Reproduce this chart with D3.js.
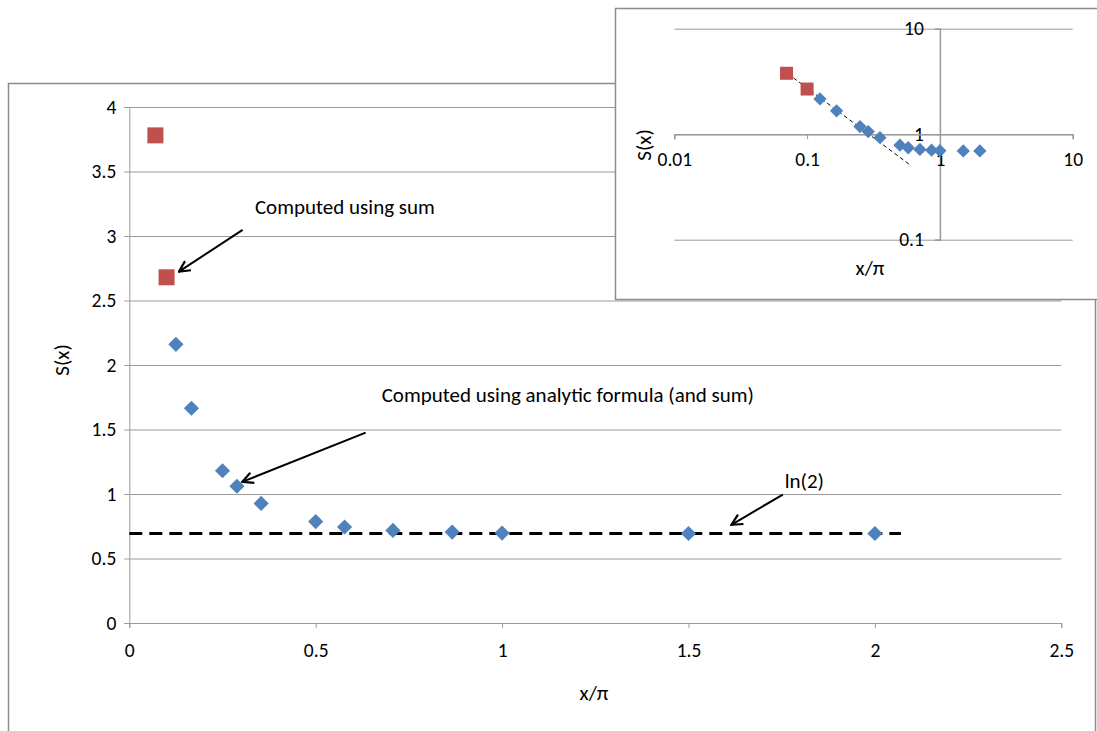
<!DOCTYPE html>
<html>
<head>
<meta charset="utf-8">
<script src="https://cdn.jsdelivr.net/npm/d3@7"></script>
<style>
  body { margin: 0; background: #fff; }
  svg text { font-family: Carlito, Lato, "Liberation Sans", sans-serif; fill: #000; }
</style>
</head>
<body>
<div id="chart"></div>
<script>
// S(x) values, x in units of pi
const sumX = [0.07, 0.1];
const sumY = [3.78, 2.68];
const formulaX = [0.125, 0.1667, 0.25, 0.2887, 0.3536, 0.5, 0.5774, 0.7071, 0.866, 1, 1.5, 2];
const formulaY = [2.16, 1.665, 1.18, 1.06, 0.927, 0.786, 0.744, 0.718, 0.705, 0.697, 0.694, 0.694];

// ln(2) reference line
const ln2X = [0, 2.07];
const ln2Y = [Math.LN2, Math.LN2];

// ~1/x guide line in the log inset
const guideX = [0.065, 0.61];
const guideY = [4.1, 0.5];

// ticks
const xTicks = [0, 0.5, 1, 1.5, 2, 2.5];
const xTickLabels = ['0', '0.5', '1', '1.5', '2', '2.5'];
const yTicks = [0, 0.5, 1, 1.5, 2, 2.5, 3, 3.5, 4];
const yTickLabels = ['0', '0.5', '1', '1.5', '2', '2.5', '3', '3.5', '4'];
const logXTicks = [0.01, 0.1, 1, 10];
const logXTickLabels = ['0.01', '0.1', '1', '10'];
const logYTicks = [0.1, 1, 10];
const logYTickLabels = ['0.1', '1', '10'];

// annotations (data coordinates of main chart)
const noteTexts = ['Computed using sum', 'Computed using analytic formula (and sum)', 'ln(2)'];
const noteTextX = [0.337, 0.677, 1.758];
const noteTextY = [3.17, 1.71, 1.05];
const arrowFromX = [0.304, 0.634, 1.753];
const arrowFromY = [3.047, 1.476, 0.996];
const arrowToX = [0.133, 0.303, 1.615];
const arrowToY = [2.724, 1.094, 0.761];

const BLUE = '#4F81BD';
const RED = '#C0504D';
const GRID = '#9a9a9a';
const BORDER = '#8c8c8c';
const TICK_FONT = 19.5;
const TEXT_FONT = 21;

const width = 1097, height = 731;
const svg = d3.select('#chart').append('svg')
    .attr('width', width)
    .attr('height', height);

svg.append('defs').append('marker')
    .attr('id', 'arrow')
    .attr('viewBox', '0 0 12 12')
    .attr('refX', 11)
    .attr('refY', 6)
    .attr('markerWidth', 13)
    .attr('markerHeight', 13)
    .attr('markerUnits', 'userSpaceOnUse')
    .attr('orient', 'auto')
    .append('path')
    .attr('d', 'M1,1 L11,6 L1,11')
    .attr('fill', 'none')
    .attr('stroke', '#000')
    .attr('stroke-width', 2);

// ---------- main chart ----------
const main = { left: 129.3, right: 1061.3, top: 107, bottom: 623 };

// outer frame
svg.append('rect')
    .attr('x', 8.5).attr('y', 83.5)
    .attr('width', 1087).attr('height', 700)
    .attr('fill', '#fff')
    .attr('stroke', BORDER)
    .attr('stroke-width', 1.5);

const x = d3.scaleLinear().domain([0, 2.5]).range([main.left, main.right]);
const y = d3.scaleLinear().domain([0, 4]).range([main.bottom, main.top]);

const g = svg.append('g');

// horizontal grid
g.append('g')
    .attr('transform', `translate(${main.left},0)`)
    .call(d3.axisLeft(y).tickValues(yTicks).tickSize(-(main.right - main.left)).tickFormat(''))
    .call(s => s.select('.domain').remove())
    .call(s => s.selectAll('line').attr('stroke', GRID).attr('stroke-width', 1));

// y axis
g.append('g')
    .attr('transform', `translate(${main.left},0)`)
    .call(d3.axisLeft(y).tickValues(yTicks).tickSize(5).tickPadding(8)
        .tickFormat((d, i) => yTickLabels[i]))
    .call(s => s.select('.domain').attr('stroke', GRID))
    .call(s => s.selectAll('line').attr('stroke', GRID))
    .call(s => s.selectAll('text').attr('font-size', TICK_FONT).attr('fill', '#000'));

// x axis
g.append('g')
    .attr('transform', `translate(0,${main.bottom})`)
    .call(d3.axisBottom(x).tickValues(xTicks).tickSize(5).tickPadding(15)
        .tickFormat((d, i) => xTickLabels[i]))
    .call(s => s.select('.domain').attr('stroke', GRID))
    .call(s => s.selectAll('line').attr('stroke', GRID))
    .call(s => s.selectAll('text').attr('font-size', TICK_FONT).attr('fill', '#000'));

// axis titles
g.append('text')
    .attr('transform', `translate(69,${(main.top + main.bottom) / 2 - 5}) rotate(-90)`)
    .attr('text-anchor', 'middle')
    .attr('font-size', TEXT_FONT)
    .text('S(x)');

g.append('text')
    .attr('x', 594)
    .attr('y', 700)
    .attr('text-anchor', 'middle')
    .attr('font-size', TEXT_FONT)
    .text('x/π');

// ln(2) dashed line
g.append('path')
    .datum(ln2X.map((v, i) => [v, ln2Y[i]]))
    .attr('d', d3.line().x(d => x(d[0])).y(d => y(d[1])))
    .attr('fill', 'none')
    .attr('stroke', '#000')
    .attr('stroke-width', 3)
    .attr('stroke-dasharray', '13,7');

const diamond = d3.symbol().type(d3.symbolSquare);

// analytic formula points (diamonds)
g.selectAll('.formula')
    .data(formulaX.map((v, i) => [v, formulaY[i]]))
    .join('path')
    .attr('class', 'formula')
    .attr('d', diamond.size(115)())
    .attr('transform', d => `translate(${x(d[0])},${y(d[1])}) rotate(45)`)
    .attr('fill', BLUE);

// sum points (squares)
g.selectAll('.sum')
    .data(sumX.map((v, i) => [v, sumY[i]]))
    .join('rect')
    .attr('class', 'sum')
    .attr('x', d => x(d[0]) - 8)
    .attr('y', d => y(d[1]) - 8)
    .attr('width', 16)
    .attr('height', 16)
    .attr('fill', RED);

// annotations
noteTexts.forEach((t, i) => {
    g.append('text')
        .attr('x', x(noteTextX[i]))
        .attr('y', y(noteTextY[i]))
        .attr('font-size', TEXT_FONT)
        .text(t);
    g.append('line')
        .attr('x1', x(arrowFromX[i]))
        .attr('y1', y(arrowFromY[i]))
        .attr('x2', x(arrowToX[i]))
        .attr('y2', y(arrowToY[i]))
        .attr('stroke', '#000')
        .attr('stroke-width', 2)
        .attr('marker-end', 'url(#arrow)');
});

// ---------- inset (log-log) ----------
const ins = { left: 674.3, right: 1072.7, top: 28.7, bottom: 239.7 };

svg.append('rect')
    .attr('x', 615.5).attr('y', 8.5)
    .attr('width', 500).attr('height', 291)
    .attr('fill', '#fff')
    .attr('stroke', BORDER)
    .attr('stroke-width', 1.5);

const lx = d3.scaleLog().domain([0.01, 10]).range([ins.left, ins.right]);
const ly = d3.scaleLog().domain([0.1, 10]).range([ins.bottom, ins.top]);

const ig = svg.append('g');

// horizontal grid
ig.append('g')
    .attr('transform', `translate(${ins.left},0)`)
    .call(d3.axisLeft(ly).tickValues(logYTicks).tickSize(-(ins.right - ins.left)).tickFormat(''))
    .call(s => s.select('.domain').remove())
    .call(s => s.selectAll('line').attr('stroke', GRID));

// vertical axis crossing at x = 1
ig.append('g')
    .attr('transform', `translate(${lx(1)},0)`)
    .call(d3.axisLeft(ly).tickValues(logYTicks).tickSize(5).tickPadding(11)
        .tickFormat((d, i) => logYTickLabels[i]))
    .call(s => s.select('.domain').attr('stroke', GRID).attr('stroke-width', 1.5))
    .call(s => s.selectAll('line').attr('stroke', GRID))
    .call(s => s.selectAll('text').attr('font-size', TICK_FONT).attr('fill', '#000'));

// horizontal axis crossing at y = 1
ig.append('g')
    .attr('transform', `translate(0,${ly(1)})`)
    .call(d3.axisBottom(lx).tickValues(logXTicks).tickSize(5).tickPadding(12.5)
        .tickFormat((d, i) => logXTickLabels[i]))
    .call(s => s.select('.domain').attr('stroke', GRID).attr('stroke-width', 1.5))
    .call(s => s.selectAll('line').attr('stroke', GRID))
    .call(s => s.selectAll('text').attr('font-size', TICK_FONT).attr('fill', '#000'));

ig.append('text')
    .attr('transform', `translate(651,145) rotate(-90)`)
    .attr('text-anchor', 'middle')
    .attr('font-size', TEXT_FONT)
    .text('S(x)');

ig.append('text')
    .attr('x', 870)
    .attr('y', 275)
    .attr('text-anchor', 'middle')
    .attr('font-size', TEXT_FONT)
    .text('x/π');

// guide line
ig.append('path')
    .datum(guideX.map((v, i) => [v, guideY[i]]))
    .attr('d', d3.line().x(d => lx(d[0])).y(d => ly(d[1])))
    .attr('fill', 'none')
    .attr('stroke', '#000')
    .attr('stroke-width', 1)
    .attr('stroke-dasharray', '4,3');

ig.selectAll('.formula')
    .data(formulaX.map((v, i) => [v, formulaY[i]]))
    .join('path')
    .attr('class', 'formula')
    .attr('d', diamond.size(88)())
    .attr('transform', d => `translate(${lx(d[0])},${ly(d[1])}) rotate(45)`)
    .attr('fill', BLUE);

ig.selectAll('.sum')
    .data(sumX.map((v, i) => [v, sumY[i]]))
    .join('rect')
    .attr('class', 'sum')
    .attr('x', d => lx(d[0]) - 6.5)
    .attr('y', d => ly(d[1]) - 6.5)
    .attr('width', 13)
    .attr('height', 13)
    .attr('fill', RED);
</script>
</body>
</html>
